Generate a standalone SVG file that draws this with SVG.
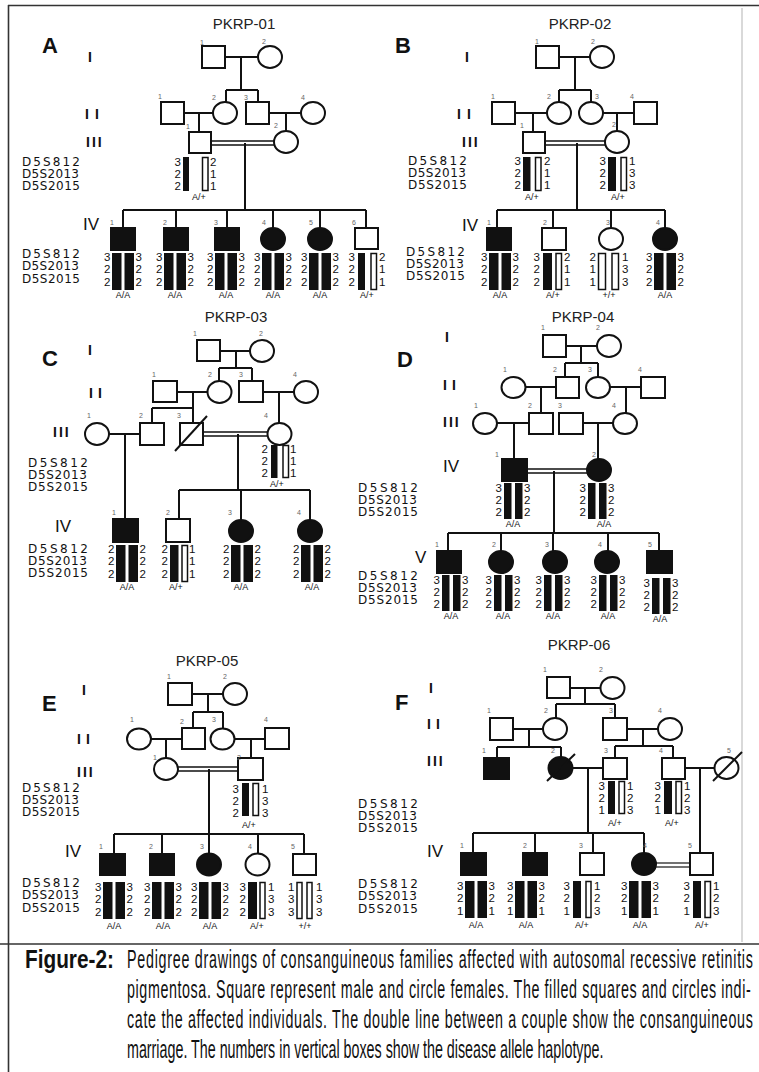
<svg xmlns="http://www.w3.org/2000/svg" xmlns:xlink="http://www.w3.org/1999/xlink" width="759" height="1072" viewBox="0 0 759 1072">
<style>
.ln{stroke:#111;stroke-width:2;fill:none}
.dl{stroke:#111;stroke-width:1.3;fill:none}
.s{fill:#fff;stroke:#111;stroke-width:2}
.f{fill:#111;stroke:#111;stroke-width:2}
.b{fill:#111}
.o{fill:#fff;stroke:#111;stroke-width:1.5}
text{font-family:"Liberation Sans",Arial,sans-serif;fill:#111}
.t{font-size:15px;text-anchor:middle;fill:#222}
.p{font-size:22px;font-weight:bold}
.g{font-size:14px;font-weight:bold}
.gv{font-size:17px}
.i{font-size:7px;fill:#666}
.n{font-size:11.5px}
.ne{font-size:11.5px;text-anchor:end}
.m{font-size:12px;font-family:"DejaVu Sans",sans-serif}
.gt{font-size:9px;text-anchor:middle}
.cap{font-size:26px}
.capb{font-size:26px;font-weight:bold}
</style>
<defs>
<g id="hh"><rect class="b" x="-11" y="0" width="9.5" height="37"/><rect class="b" x="1.5" y="0" width="9.5" height="37"/></g>
<g id="hd"><rect class="b" x="-9" y="0" width="7.5" height="36"/><rect class="b" x="2" y="0" width="7.5" height="36"/></g>
</defs>
<rect width="759" height="1072" fill="#fff"/>
<g id="frame">
<path d="M8 5.5H759" stroke="#333" stroke-width="1.6" fill="none"/>
<path d="M8.5 5V1072" stroke="#333" stroke-width="1.6" fill="none"/>
<path d="M742 8V942" stroke="#ccc" stroke-width="1.5" fill="none"/>
<path d="M0 944H759" stroke="#333" stroke-width="1.6" fill="none"/>
</g>

<!-- ================= PANEL A ================= -->
<g id="panelA-labels">
<text class="t" x="244" y="29">PKRP-01</text>
<text class="p" x="42" y="53">A</text>
<text class="g" x="88" y="62">I</text>
<text class="g" x="85" y="119" letter-spacing="6">II</text>
<text class="g" x="86" y="147" letter-spacing="2">III</text>
<text class="gv" x="83" y="230">IV</text>
<text class="m" x="22" y="166" textLength="58">D5S812</text>
<text class="m" x="22" y="178" textLength="57">D5S2013</text>
<text class="m" x="22" y="190" textLength="58">D5S2015</text>
<text class="m" x="22" y="258" textLength="58">D5S812</text>
<text class="m" x="22" y="270" textLength="57">D5S2013</text>
<text class="m" x="22" y="283" textLength="58">D5S2015</text>
</g>
<g id="panelA-connectors">
<path class="ln" d="M225 57H258M241 57V90M226 90H258M226 90V102M258 90V102M184 113H213M199 113V132M269 113H301M286 113V131M245 143V210M123 210H366M123 210V228M176 210V228M227 210V228M273 210V228M320 210V228M366 210V228"/>
<path class="dl" d="M211 141H274M211 145H274"/>
</g>
<g id="A-I-1"><rect class="s" x="202" y="46" width="23" height="22"/><text class="i" x="200" y="45">1</text></g>
<g id="A-I-2"><ellipse class="s" cx="270" cy="57" rx="12" ry="11"/><text class="i" x="262" y="44">2</text></g>
<g id="A-II-1"><rect class="s" x="161" y="102" width="23" height="22"/><text class="i" x="158" y="99">1</text></g>
<g id="A-II-2"><ellipse class="s" cx="225" cy="113" rx="12" ry="11"/><text class="i" x="212" y="100">2</text></g>
<g id="A-II-3"><rect class="s" x="246" y="102" width="23" height="22"/><text class="i" x="244" y="100">3</text></g>
<g id="A-II-4"><ellipse class="s" cx="313" cy="113" rx="12" ry="11"/><text class="i" x="301" y="100">4</text></g>
<g id="A-III-1"><rect class="s" x="189" y="132" width="22" height="21"/><text class="i" x="186" y="129">1</text>
<rect class="b" x="183" y="157" width="6" height="34"/><rect class="o" x="202.5" y="157.5" width="5.5" height="33"/>
<text class="ne"><tspan x="181" y="166">3</tspan><tspan x="181" y="178">2</tspan><tspan x="181" y="190">2</tspan></text>
<text class="n"><tspan x="210" y="166">2</tspan><tspan x="210" y="178">1</tspan><tspan x="210" y="190">1</tspan></text>
<text class="gt" x="199" y="200">A/+</text></g>
<g id="A-III-2"><ellipse class="s" cx="286" cy="142" rx="12" ry="11"/><text class="i" x="274" y="128">2</text></g>
<g id="A-IV-1"><rect class="f" x="111" y="228" width="24" height="22"/><text class="i" x="110" y="225">1</text>
<use href="#hh" x="123" y="253"/>
<text class="ne"><tspan x="110.5" y="261">3</tspan><tspan x="110.5" y="273">2</tspan><tspan x="110.5" y="286">2</tspan></text>
<text class="n"><tspan x="135.5" y="261">3</tspan><tspan x="135.5" y="273">2</tspan><tspan x="135.5" y="286">2</tspan></text>
<text class="gt" x="123" y="298">A/A</text></g>
<g id="A-IV-2"><rect class="f" x="164" y="228" width="24" height="22"/><text class="i" x="163" y="225">2</text>
<use href="#hh" x="175" y="253"/>
<text class="ne"><tspan x="162.5" y="261">3</tspan><tspan x="162.5" y="273">2</tspan><tspan x="162.5" y="286">2</tspan></text>
<text class="n"><tspan x="187.5" y="261">3</tspan><tspan x="187.5" y="273">2</tspan><tspan x="187.5" y="286">2</tspan></text>
<text class="gt" x="175" y="298">A/A</text></g>
<g id="A-IV-3"><rect class="f" x="215" y="228" width="24" height="22"/><text class="i" x="214" y="225">3</text>
<use href="#hh" x="226" y="253"/>
<text class="ne"><tspan x="213.5" y="261">3</tspan><tspan x="213.5" y="273">2</tspan><tspan x="213.5" y="286">2</tspan></text>
<text class="n"><tspan x="238.5" y="261">3</tspan><tspan x="238.5" y="273">2</tspan><tspan x="238.5" y="286">2</tspan></text>
<text class="gt" x="226" y="298">A/A</text></g>
<g id="A-IV-4"><ellipse class="f" cx="273" cy="239" rx="12" ry="11"/><text class="i" x="262" y="225">4</text>
<use href="#hh" x="273" y="253"/>
<text class="ne"><tspan x="260.5" y="261">3</tspan><tspan x="260.5" y="273">2</tspan><tspan x="260.5" y="286">2</tspan></text>
<text class="n"><tspan x="285.5" y="261">3</tspan><tspan x="285.5" y="273">2</tspan><tspan x="285.5" y="286">2</tspan></text>
<text class="gt" x="273" y="298">A/A</text></g>
<g id="A-IV-5"><ellipse class="f" cx="320" cy="239" rx="12" ry="11"/><text class="i" x="309" y="225">5</text>
<use href="#hh" x="320" y="253"/>
<text class="ne"><tspan x="307.5" y="261">3</tspan><tspan x="307.5" y="273">2</tspan><tspan x="307.5" y="286">2</tspan></text>
<text class="n"><tspan x="332.5" y="261">3</tspan><tspan x="332.5" y="273">2</tspan><tspan x="332.5" y="286">2</tspan></text>
<text class="gt" x="320" y="298">A/A</text></g>
<g id="A-IV-6"><rect class="s" x="355" y="228" width="23" height="21"/><text class="i" x="352" y="225">6</text>
<rect class="b" x="358" y="253" width="7" height="37"/><rect class="o" x="371" y="253.5" width="5.5" height="36"/>
<text class="ne"><tspan x="355" y="261">3</tspan><tspan x="355" y="273">2</tspan><tspan x="355" y="286">2</tspan></text>
<text class="n"><tspan x="379" y="261">2</tspan><tspan x="379" y="273">1</tspan><tspan x="379" y="286">1</tspan></text>
<text class="gt" x="367" y="298">A/+</text></g>

<!-- ================= PANEL B ================= -->
<g id="panelB-labels">
<text class="t" x="580" y="29">PKRP-02</text>
<text class="p" x="395" y="53">B</text>
<text class="g" x="465" y="62">I</text>
<text class="g" x="457" y="119" letter-spacing="6">II</text>
<text class="g" x="462" y="147" letter-spacing="2">III</text>
<text class="gv" x="462" y="231">IV</text>
<text class="m" x="408" y="165" textLength="59">D5S812</text>
<text class="m" x="408" y="177" textLength="58">D5S2013</text>
<text class="m" x="408" y="189" textLength="59">D5S2015</text>
<text class="m" x="406" y="256" textLength="59">D5S812</text>
<text class="m" x="406" y="268" textLength="58">D5S2013</text>
<text class="m" x="406" y="280" textLength="59">D5S2015</text>
</g>
<g id="panelB-connectors">
<path class="ln" d="M559 57H590M575 57V90M559 90H591M559 90V102M591 90V102M515 113H547M533 113V132M603 113H634M617 113V131M577 143V210M497 210H665M497 210V228M553 210V228M611 210V228M665 210V228"/>
<path class="dl" d="M545 141H606M545 145H606"/>
</g>
<g id="B-I-1"><rect class="s" x="536" y="46" width="23" height="22"/><text class="i" x="535" y="44">1</text></g>
<g id="B-I-2"><ellipse class="s" cx="602" cy="57" rx="12" ry="11"/><text class="i" x="591" y="44">2</text></g>
<g id="B-II-1"><rect class="s" x="492" y="102" width="23" height="22"/><text class="i" x="491" y="99">1</text></g>
<g id="B-II-2"><ellipse class="s" cx="559" cy="113" rx="12" ry="11"/><text class="i" x="547" y="99">2</text></g>
<g id="B-II-3"><ellipse class="s" cx="591" cy="113" rx="12" ry="11"/><text class="i" x="595" y="99">3</text></g>
<g id="B-II-4"><rect class="s" x="634" y="102" width="23" height="22"/><text class="i" x="630" y="99">4</text></g>
<g id="B-III-1"><rect class="s" x="523" y="132" width="22" height="21"/><text class="i" x="520" y="128">1</text>
<rect class="b" x="523" y="157" width="7.5" height="34"/><rect class="o" x="535.5" y="157.5" width="5.5" height="33"/>
<text class="ne"><tspan x="521" y="165">3</tspan><tspan x="521" y="177">2</tspan><tspan x="521" y="189">2</tspan></text>
<text class="n"><tspan x="544" y="165">2</tspan><tspan x="544" y="177">1</tspan><tspan x="544" y="189">1</tspan></text>
<text class="gt" x="532" y="200">A/+</text></g>
<g id="B-III-2"><ellipse class="s" cx="617" cy="142" rx="12" ry="11"/><text class="i" x="612" y="127">2</text>
<rect class="b" x="608" y="157" width="8" height="34"/><rect class="o" x="621" y="157.5" width="5.5" height="33"/>
<text class="ne"><tspan x="606" y="165">3</tspan><tspan x="606" y="177">2</tspan><tspan x="606" y="189">2</tspan></text>
<text class="n"><tspan x="629" y="165">1</tspan><tspan x="629" y="177">3</tspan><tspan x="629" y="189">3</tspan></text>
<text class="gt" x="618" y="200">A/+</text></g>
<g id="B-IV-1"><rect class="f" x="487" y="228" width="24" height="22"/><text class="i" x="487" y="225">1</text>
<use href="#hh" x="500" y="253"/>
<text class="ne"><tspan x="487.5" y="261">3</tspan><tspan x="487.5" y="273">2</tspan><tspan x="487.5" y="286">2</tspan></text>
<text class="n"><tspan x="512.5" y="261">3</tspan><tspan x="512.5" y="273">2</tspan><tspan x="512.5" y="286">2</tspan></text>
<text class="gt" x="500" y="298">A/A</text></g>
<g id="B-IV-2"><rect class="s" x="542" y="228" width="24" height="22"/><text class="i" x="543" y="225">2</text>
<rect class="b" x="543" y="253" width="9" height="37"/><rect class="o" x="556" y="253.5" width="5.5" height="36"/>
<text class="ne"><tspan x="540" y="261">3</tspan><tspan x="540" y="273">2</tspan><tspan x="540" y="286">2</tspan></text>
<text class="n"><tspan x="564" y="261">2</tspan><tspan x="564" y="273">1</tspan><tspan x="564" y="286">1</tspan></text>
<text class="gt" x="553" y="298">A/+</text></g>
<g id="B-IV-3"><ellipse class="s" cx="611" cy="239" rx="12" ry="11"/><text class="i" x="606" y="225">3</text>
<rect class="o" x="598.5" y="253.5" width="7" height="36"/><rect class="o" x="612" y="253.5" width="6.5" height="36"/>
<text class="ne"><tspan x="596" y="261">2</tspan><tspan x="596" y="273">1</tspan><tspan x="596" y="286">1</tspan></text>
<text class="n"><tspan x="622" y="261">1</tspan><tspan x="622" y="273">3</tspan><tspan x="622" y="286">3</tspan></text>
<text class="gt" x="609" y="298">+/+</text></g>
<g id="B-IV-4"><ellipse class="f" cx="665" cy="239" rx="12" ry="11"/><text class="i" x="656" y="225">4</text>
<use href="#hh" x="665" y="253"/>
<text class="ne"><tspan x="652.5" y="261">3</tspan><tspan x="652.5" y="273">2</tspan><tspan x="652.5" y="286">2</tspan></text>
<text class="n"><tspan x="677.5" y="261">3</tspan><tspan x="677.5" y="273">2</tspan><tspan x="677.5" y="286">2</tspan></text>
<text class="gt" x="665" y="298">A/A</text></g>

<!-- ================= PANEL C ================= -->
<g id="panelC-labels">
<text class="t" x="236" y="322">PKRP-03</text>
<text class="p" x="42" y="366">C</text>
<text class="g" x="88" y="355">I</text>
<text class="g" x="89" y="398" letter-spacing="5">II</text>
<text class="g" x="53" y="437" letter-spacing="2">III</text>
<text class="gv" x="55" y="532">IV</text>
<text class="m" x="28" y="467" textLength="60">D5S812</text>
<text class="m" x="28" y="479" textLength="59">D5S2013</text>
<text class="m" x="28" y="491" textLength="60">D5S2015</text>
<text class="m" x="28" y="553" textLength="60">D5S812</text>
<text class="m" x="28" y="565" textLength="59">D5S2013</text>
<text class="m" x="28" y="577" textLength="60">D5S2015</text>
</g>
<g id="panelC-connectors">
<path class="ln" d="M220 351H250M236 351V368M219 368H252M219 368V381M252 368V382M177 392H208M193 392V408M152 408H193M152 408V423M193 408V423M263 392H294M279 392V423M108 434H140M125 434V519M238 434V490M179 490H310M179 490V519M241 490V520M310 490V520"/>
<path class="dl" d="M203 432H268M203 436H268"/>
</g>
<g id="C-I-1"><rect class="s" x="197" y="340" width="23" height="21"/><text class="i" x="193" y="336">1</text></g>
<g id="C-I-2"><ellipse class="s" cx="262" cy="351" rx="12" ry="11"/><text class="i" x="259" y="336">2</text></g>
<g id="C-II-1"><rect class="s" x="153" y="381" width="24" height="21"/><text class="i" x="152" y="377">1</text></g>
<g id="C-II-2"><ellipse class="s" cx="219.5" cy="392" rx="12" ry="11"/><text class="i" x="208" y="377">2</text></g>
<g id="C-II-3"><rect class="s" x="239" y="381" width="24" height="21"/><text class="i" x="239" y="377">3</text></g>
<g id="C-II-4"><ellipse class="s" cx="306" cy="392" rx="12" ry="11"/><text class="i" x="293" y="377">4</text></g>
<g id="C-III-1"><ellipse class="s" cx="97" cy="434" rx="12" ry="11"/><text class="i" x="87" y="418">1</text></g>
<g id="C-III-2"><rect class="s" x="140" y="423" width="24" height="22"/><text class="i" x="139" y="418">2</text></g>
<g id="C-III-3"><rect class="s" x="180" y="423" width="23" height="22"/><path class="ln" d="M175 451L207 416"/><text class="i" x="177" y="418">3</text></g>
<g id="C-III-4"><ellipse class="s" cx="279.5" cy="434" rx="12" ry="11"/><text class="i" x="264" y="418">4</text>
<rect class="b" x="271" y="445" width="6.5" height="33"/><rect class="o" x="283" y="445.5" width="5.5" height="32"/>
<text class="ne"><tspan x="268" y="453">2</tspan><tspan x="268" y="465">2</tspan><tspan x="268" y="477">2</tspan></text>
<text class="n"><tspan x="290" y="453">1</tspan><tspan x="290" y="465">1</tspan><tspan x="290" y="477">1</tspan></text>
<text class="gt" x="277" y="487">A/+</text></g>
<g id="C-IV-1"><rect class="f" x="113" y="519" width="25" height="23"/><text class="i" x="112" y="515">1</text>
<use href="#hh" x="127" y="545"/>
<text class="ne"><tspan x="114.5" y="553">2</tspan><tspan x="114.5" y="565">2</tspan><tspan x="114.5" y="578">2</tspan></text>
<text class="n"><tspan x="139.5" y="553">2</tspan><tspan x="139.5" y="565">2</tspan><tspan x="139.5" y="578">2</tspan></text>
<text class="gt" x="127" y="590">A/A</text></g>
<g id="C-IV-2"><rect class="s" x="166" y="519" width="24" height="23"/><text class="i" x="166" y="515">2</text>
<rect class="b" x="170" y="545" width="8.5" height="37"/><rect class="o" x="182" y="545.5" width="5.5" height="36"/>
<text class="ne"><tspan x="168" y="553">2</tspan><tspan x="168" y="565">2</tspan><tspan x="168" y="578">2</tspan></text>
<text class="n"><tspan x="189" y="553">1</tspan><tspan x="189" y="565">1</tspan><tspan x="189" y="578">1</tspan></text>
<text class="gt" x="176" y="590">A/+</text></g>
<g id="C-IV-3"><ellipse class="f" cx="241" cy="531" rx="12" ry="11"/><text class="i" x="228" y="515">3</text>
<use href="#hh" x="242" y="545"/>
<text class="ne"><tspan x="229.5" y="553">2</tspan><tspan x="229.5" y="565">2</tspan><tspan x="229.5" y="578">2</tspan></text>
<text class="n"><tspan x="254.5" y="553">2</tspan><tspan x="254.5" y="565">2</tspan><tspan x="254.5" y="578">2</tspan></text>
<text class="gt" x="241" y="590">A/A</text></g>
<g id="C-IV-4"><ellipse class="f" cx="310" cy="531" rx="12" ry="11"/><text class="i" x="297" y="515">4</text>
<use href="#hh" x="312" y="545"/>
<text class="ne"><tspan x="299.5" y="553">2</tspan><tspan x="299.5" y="565">2</tspan><tspan x="299.5" y="578">2</tspan></text>
<text class="n"><tspan x="324.5" y="553">2</tspan><tspan x="324.5" y="565">2</tspan><tspan x="324.5" y="578">2</tspan></text>
<text class="gt" x="312" y="590">A/A</text></g>

<!-- ================= PANEL D ================= -->
<g id="panelD-labels">
<text class="t" x="583" y="322">PKRP-04</text>
<text class="p" x="397" y="367">D</text>
<text class="g" x="445" y="342">I</text>
<text class="g" x="443" y="390" letter-spacing="5">II</text>
<text class="g" x="443" y="427" letter-spacing="2">III</text>
<text class="gv" x="443" y="472">IV</text>
<text class="gv" x="415" y="563">V</text>
<text class="m" x="358" y="492" textLength="60">D5S812</text>
<text class="m" x="358" y="504" textLength="59">D5S2013</text>
<text class="m" x="358" y="516" textLength="60">D5S2015</text>
<text class="m" x="358" y="580" textLength="60">D5S812</text>
<text class="m" x="358" y="592" textLength="59">D5S2013</text>
<text class="m" x="358" y="604" textLength="60">D5S2015</text>
</g>
<g id="panelD-connectors">
<path class="ln" d="M566 346H597M581 346V363M565 363H598M565 363V377M598 363V377M525 387H556M541 387V413M610 387H641M626 387V413M497 423H529M514 423V459M583 423H613M598 423V459M554 471V533M448 533H659M448 533V551M501 533V551M553 533V551M608 533V551M659 533V551"/>
<path class="dl" d="M527 469H587M527 473H587"/>
</g>
<g id="D-I-1"><rect class="s" x="543" y="335" width="23" height="22"/><text class="i" x="541" y="330">1</text></g>
<g id="D-I-2"><ellipse class="s" cx="609" cy="346" rx="12" ry="11"/><text class="i" x="596" y="330">2</text></g>
<g id="D-II-1"><ellipse class="s" cx="513.5" cy="387.5" rx="12" ry="10.5"/><text class="i" x="503" y="372">1</text></g>
<g id="D-II-2"><rect class="s" x="556" y="377" width="23" height="21"/><text class="i" x="553" y="372">2</text></g>
<g id="D-II-3"><ellipse class="s" cx="598" cy="387.5" rx="12" ry="10.5"/><text class="i" x="588" y="372">3</text></g>
<g id="D-II-4"><rect class="s" x="641" y="377" width="24" height="21"/><text class="i" x="638" y="372">4</text></g>
<g id="D-III-1"><ellipse class="s" cx="485" cy="423.5" rx="12" ry="10.5"/><text class="i" x="474" y="408">1</text></g>
<g id="D-III-2"><rect class="s" x="529" y="413" width="24" height="21"/><text class="i" x="528" y="408">2</text></g>
<g id="D-III-3"><rect class="s" x="559" y="413" width="24" height="21"/><text class="i" x="558" y="408">3</text></g>
<g id="D-III-4"><ellipse class="s" cx="625" cy="423.5" rx="12" ry="10.5"/><text class="i" x="612" y="408">4</text></g>
<g id="D-IV-1"><rect class="f" x="502" y="459" width="25" height="22"/><text class="i" x="495" y="457">1</text>
<use href="#hd" x="513" y="483"/>
<text class="ne"><tspan x="502" y="492">3</tspan><tspan x="502" y="504">2</tspan><tspan x="502" y="516">2</tspan></text>
<text class="n"><tspan x="524" y="492">3</tspan><tspan x="524" y="504">2</tspan><tspan x="524" y="516">2</tspan></text>
<text class="gt" x="513" y="527">A/A</text></g>
<g id="D-IV-2"><ellipse class="f" cx="599" cy="470" rx="12" ry="11"/><text class="i" x="592" y="457">2</text>
<use href="#hd" x="597" y="483"/>
<text class="ne"><tspan x="586" y="492">3</tspan><tspan x="586" y="504">2</tspan><tspan x="586" y="516">2</tspan></text>
<text class="n"><tspan x="608" y="492">3</tspan><tspan x="608" y="504">2</tspan><tspan x="608" y="516">2</tspan></text>
<text class="gt" x="604" y="527">A/A</text></g>
<g id="D-V-1"><rect class="f" x="437" y="551" width="24" height="22"/><text class="i" x="435" y="547">1</text>
<use href="#hd" x="451" y="575"/>
<text class="ne"><tspan x="440" y="584">3</tspan><tspan x="440" y="596">2</tspan><tspan x="440" y="608">2</tspan></text>
<text class="n"><tspan x="462" y="584">3</tspan><tspan x="462" y="596">2</tspan><tspan x="462" y="608">2</tspan></text>
<text class="gt" x="451" y="619">A/A</text></g>
<g id="D-V-2"><ellipse class="f" cx="501" cy="562" rx="12" ry="11"/><text class="i" x="492" y="547">2</text>
<use href="#hd" x="503" y="575"/>
<text class="ne"><tspan x="492" y="584">3</tspan><tspan x="492" y="596">2</tspan><tspan x="492" y="608">2</tspan></text>
<text class="n"><tspan x="514" y="584">3</tspan><tspan x="514" y="596">2</tspan><tspan x="514" y="608">2</tspan></text>
<text class="gt" x="503" y="619">A/A</text></g>
<g id="D-V-3"><ellipse class="f" cx="555" cy="562" rx="12" ry="11"/><text class="i" x="545" y="547">3</text>
<use href="#hd" x="553" y="575"/>
<text class="ne"><tspan x="542" y="584">3</tspan><tspan x="542" y="596">2</tspan><tspan x="542" y="608">2</tspan></text>
<text class="n"><tspan x="564" y="584">3</tspan><tspan x="564" y="596">2</tspan><tspan x="564" y="608">2</tspan></text>
<text class="gt" x="553" y="619">A/A</text></g>
<g id="D-V-4"><ellipse class="f" cx="607" cy="562" rx="12" ry="11"/><text class="i" x="598" y="547">4</text>
<use href="#hd" x="608" y="575"/>
<text class="ne"><tspan x="597" y="584">3</tspan><tspan x="597" y="596">2</tspan><tspan x="597" y="608">2</tspan></text>
<text class="n"><tspan x="619" y="584">3</tspan><tspan x="619" y="596">2</tspan><tspan x="619" y="608">2</tspan></text>
<text class="gt" x="608" y="619">A/A</text></g>
<g id="D-V-5"><rect class="f" x="647" y="551" width="25" height="22"/><text class="i" x="648" y="547">5</text>
<use href="#hd" x="661" y="578"/>
<text class="ne"><tspan x="650" y="587">3</tspan><tspan x="650" y="599">2</tspan><tspan x="650" y="611">2</tspan></text>
<text class="n"><tspan x="672" y="587">3</tspan><tspan x="672" y="599">2</tspan><tspan x="672" y="611">2</tspan></text>
<text class="gt" x="660" y="622">A/A</text></g>

<!-- ================= PANEL E ================= -->
<g id="panelE-labels">
<text class="t" x="207" y="666">PKRP-05</text>
<text class="p" x="42" y="711">E</text>
<text class="g" x="82" y="695">I</text>
<text class="g" x="77" y="744" letter-spacing="5">II</text>
<text class="g" x="77" y="777" letter-spacing="2">III</text>
<text class="gv" x="65" y="857">IV</text>
<text class="m" x="22" y="792" textLength="58">D5S812</text>
<text class="m" x="22" y="804" textLength="57">D5S2013</text>
<text class="m" x="22" y="816" textLength="58">D5S2015</text>
<text class="m" x="22" y="887" textLength="58">D5S812</text>
<text class="m" x="22" y="899" textLength="57">D5S2013</text>
<text class="m" x="22" y="912" textLength="58">D5S2015</text>
</g>
<g id="panelE-connectors">
<path class="ln" d="M192 694H223M208 694V712M193 712H223M193 712V728M223 712V728M151 739H182M166 739V758M234 739H265M251 739V758M209 769V834M114 834H304M114 834V854M162 834V854M209 834V854M258 834V854M304 834V854"/>
<path class="dl" d="M178 767H238M178 771H238"/>
</g>
<g id="E-I-1"><rect class="s" x="168" y="683" width="24" height="22"/><text class="i" x="167" y="679">1</text></g>
<g id="E-I-2"><ellipse class="s" cx="235" cy="694" rx="12" ry="11"/><text class="i" x="223" y="679">2</text></g>
<g id="E-II-1"><ellipse class="s" cx="139" cy="739" rx="12" ry="10.5"/><text class="i" x="130" y="722">1</text></g>
<g id="E-II-2"><rect class="s" x="182" y="728" width="23" height="21"/><text class="i" x="180" y="724">2</text></g>
<g id="E-II-3"><ellipse class="s" cx="222.5" cy="739" rx="12" ry="10.5"/><text class="i" x="212" y="722">3</text></g>
<g id="E-II-4"><rect class="s" x="265" y="728" width="24" height="21"/><text class="i" x="264" y="722">4</text></g>
<g id="E-III-1"><ellipse class="s" cx="166" cy="769" rx="12" ry="11"/><text class="i" x="153" y="760">1</text></g>
<g id="E-III-2"><rect class="s" x="238" y="758" width="25" height="22"/><text class="i" x="237" y="760">2</text>
<rect class="b" x="242" y="783" width="7" height="33"/><rect class="o" x="253" y="783.5" width="5.5" height="32"/>
<text class="ne"><tspan x="239" y="793">3</tspan><tspan x="239" y="805">2</tspan><tspan x="239" y="817">2</tspan></text>
<text class="n"><tspan x="262" y="793">1</tspan><tspan x="262" y="805">3</tspan><tspan x="262" y="817">3</tspan></text>
<text class="gt" x="249" y="828">A/+</text></g>
<g id="E-IV-1"><rect class="f" x="100" y="854" width="25" height="21"/><text class="i" x="99" y="849">1</text>
<use href="#hh" x="114" y="882"/>
<text class="ne"><tspan x="101.5" y="891">3</tspan><tspan x="101.5" y="903">2</tspan><tspan x="101.5" y="916">2</tspan></text>
<text class="n"><tspan x="126.5" y="891">3</tspan><tspan x="126.5" y="903">2</tspan><tspan x="126.5" y="916">2</tspan></text>
<text class="gt" x="114" y="929">A/A</text></g>
<g id="E-IV-2"><rect class="f" x="150" y="854" width="24" height="21"/><text class="i" x="149" y="849">2</text>
<use href="#hh" x="163" y="882"/>
<text class="ne"><tspan x="150.5" y="891">3</tspan><tspan x="150.5" y="903">2</tspan><tspan x="150.5" y="916">2</tspan></text>
<text class="n"><tspan x="175.5" y="891">3</tspan><tspan x="175.5" y="903">2</tspan><tspan x="175.5" y="916">2</tspan></text>
<text class="gt" x="163" y="929">A/A</text></g>
<g id="E-IV-3"><ellipse class="f" cx="209" cy="864.5" rx="12" ry="11"/><text class="i" x="200" y="849">3</text>
<use href="#hh" x="210" y="882"/>
<text class="ne"><tspan x="197.5" y="891">3</tspan><tspan x="197.5" y="903">2</tspan><tspan x="197.5" y="916">2</tspan></text>
<text class="n"><tspan x="222.5" y="891">3</tspan><tspan x="222.5" y="903">2</tspan><tspan x="222.5" y="916">2</tspan></text>
<text class="gt" x="210" y="929">A/A</text></g>
<g id="E-IV-4"><ellipse class="s" cx="257.5" cy="864.5" rx="12" ry="11"/><text class="i" x="248" y="849">4</text>
<rect class="b" x="248" y="882" width="9" height="37"/><rect class="o" x="260" y="882.5" width="5" height="36"/>
<text class="ne"><tspan x="246" y="891">3</tspan><tspan x="246" y="903">2</tspan><tspan x="246" y="916">2</tspan></text>
<text class="n"><tspan x="268" y="891">1</tspan><tspan x="268" y="903">3</tspan><tspan x="268" y="916">3</tspan></text>
<text class="gt" x="257" y="929">A/+</text></g>
<g id="E-IV-5"><rect class="s" x="293" y="854" width="23" height="21"/><text class="i" x="291" y="849">5</text>
<rect class="o" x="297" y="882.5" width="5" height="36"/><rect class="o" x="307" y="882.5" width="5" height="36"/>
<text class="ne"><tspan x="294.5" y="891">1</tspan><tspan x="294.5" y="903">3</tspan><tspan x="294.5" y="916">3</tspan></text>
<text class="n"><tspan x="316" y="891">1</tspan><tspan x="316" y="903">3</tspan><tspan x="316" y="916">3</tspan></text>
<text class="gt" x="305" y="929">+/+</text></g>

<!-- ================= PANEL F ================= -->
<g id="panelF-labels">
<text class="t" x="579" y="650">PKRP-06</text>
<text class="p" x="395" y="710">F</text>
<text class="g" x="429" y="693">I</text>
<text class="g" x="427" y="729" letter-spacing="5">II</text>
<text class="g" x="427" y="766" letter-spacing="2">III</text>
<text class="gv" x="427" y="857">IV</text>
<text class="m" x="358" y="808" textLength="60">D5S812</text>
<text class="m" x="358" y="820" textLength="59">D5S2013</text>
<text class="m" x="358" y="832" textLength="60">D5S2015</text>
<text class="m" x="358" y="888" textLength="60">D5S812</text>
<text class="m" x="358" y="900" textLength="59">D5S2013</text>
<text class="m" x="358" y="913" textLength="60">D5S2015</text>
</g>
<g id="panelF-connectors">
<path class="ln" d="M570 688H601M585 688V704M556 704H615M556 704V718M615 704V718M513 729H543M529 729V747M497 747H561M497 747V758M561 747V757M627 729H658M643 729V746M615 746H673M615 746V758M673 746V758M573 768H603M588 768V833M685 768H715M700 768V853M473 833H644M473 833V853M535 833V853M593 833V853M644 833V853"/>
<path d="M656 863H690M656 867H690" stroke="#444" stroke-width="1.5" fill="none"/>
</g>
<g id="F-I-1"><rect class="s" x="547" y="677" width="23" height="21"/><text class="i" x="543" y="672">1</text></g>
<g id="F-I-2"><ellipse class="s" cx="612.5" cy="688" rx="12" ry="11"/><text class="i" x="599" y="672">2</text></g>
<g id="F-II-1"><rect class="s" x="490" y="718" width="23" height="22"/><text class="i" x="487" y="713">1</text></g>
<g id="F-II-2"><ellipse class="s" cx="555" cy="729" rx="12" ry="11"/><text class="i" x="544" y="713">2</text></g>
<g id="F-II-3"><rect class="s" x="603" y="718" width="24" height="22"/><text class="i" x="609" y="713">3</text></g>
<g id="F-II-4"><ellipse class="s" cx="670" cy="729" rx="12" ry="11"/><text class="i" x="658" y="713">4</text></g>
<g id="F-III-1"><rect class="f" x="484" y="758" width="25" height="21"/><text class="i" x="482" y="753">1</text></g>
<g id="F-III-2"><ellipse class="f" cx="560.5" cy="768" rx="12" ry="11"/><path class="ln" d="M547 781L575 754"/><text class="i" x="551" y="753">2</text></g>
<g id="F-III-3"><rect class="s" x="603" y="758" width="24" height="21"/><text class="i" x="604" y="753">3</text>
<rect class="b" x="608" y="781" width="7" height="33"/><rect class="o" x="619" y="781.5" width="5.5" height="32"/>
<text class="ne"><tspan x="605" y="790">3</tspan><tspan x="605" y="802">2</tspan><tspan x="605" y="814">1</tspan></text>
<text class="n"><tspan x="627" y="790">1</tspan><tspan x="627" y="802">2</tspan><tspan x="627" y="814">3</tspan></text>
<text class="gt" x="615" y="826">A/+</text></g>
<g id="F-III-4"><rect class="s" x="662" y="758" width="23" height="21"/><text class="i" x="659" y="753">4</text>
<rect class="b" x="664" y="781" width="8" height="33"/><rect class="o" x="676" y="781.5" width="5.5" height="32"/>
<text class="ne"><tspan x="661" y="790">3</tspan><tspan x="661" y="802">2</tspan><tspan x="661" y="814">1</tspan></text>
<text class="n"><tspan x="684" y="790">1</tspan><tspan x="684" y="802">2</tspan><tspan x="684" y="814">3</tspan></text>
<text class="gt" x="672" y="826">A/+</text></g>
<g id="F-III-5"><ellipse class="s" cx="726.5" cy="768" rx="12" ry="11"/><path class="ln" d="M713 781L742 752"/><text class="i" x="727" y="753">5</text></g>
<g id="F-IV-1"><rect class="f" x="461" y="853" width="25" height="22"/><text class="i" x="460" y="848">1</text>
<use href="#hh" x="476" y="881"/>
<text class="ne"><tspan x="463.5" y="890">3</tspan><tspan x="463.5" y="902">2</tspan><tspan x="463.5" y="915">1</tspan></text>
<text class="n"><tspan x="488.5" y="890">3</tspan><tspan x="488.5" y="902">2</tspan><tspan x="488.5" y="915">1</tspan></text>
<text class="gt" x="476" y="928">A/A</text></g>
<g id="F-IV-2"><rect class="f" x="523" y="853" width="24" height="22"/><text class="i" x="523" y="848">2</text>
<use href="#hh" x="526" y="881"/>
<text class="ne"><tspan x="513.5" y="890">3</tspan><tspan x="513.5" y="902">2</tspan><tspan x="513.5" y="915">1</tspan></text>
<text class="n"><tspan x="538.5" y="890">3</tspan><tspan x="538.5" y="902">2</tspan><tspan x="538.5" y="915">1</tspan></text>
<text class="gt" x="526" y="928">A/A</text></g>
<g id="F-IV-3"><rect class="s" x="580" y="853" width="24" height="22"/><text class="i" x="579" y="848">3</text>
<rect class="b" x="573" y="881" width="8" height="37"/><rect class="o" x="586" y="881.5" width="5" height="36"/>
<text class="ne"><tspan x="570" y="890">3</tspan><tspan x="570" y="902">2</tspan><tspan x="570" y="915">1</tspan></text>
<text class="n"><tspan x="594" y="890">1</tspan><tspan x="594" y="902">2</tspan><tspan x="594" y="915">3</tspan></text>
<text class="gt" x="582" y="928">A/+</text></g>
<g id="F-IV-4"><ellipse class="f" cx="644" cy="864" rx="12" ry="11"/><text class="i" x="643" y="848">4</text>
<use href="#hh" x="640" y="881"/>
<text class="ne"><tspan x="627.5" y="890">3</tspan><tspan x="627.5" y="902">2</tspan><tspan x="627.5" y="915">1</tspan></text>
<text class="n"><tspan x="652.5" y="890">3</tspan><tspan x="652.5" y="902">2</tspan><tspan x="652.5" y="915">1</tspan></text>
<text class="gt" x="640" y="928">A/A</text></g>
<g id="F-IV-5"><rect class="s" x="690" y="853" width="23" height="22"/><text class="i" x="688" y="848">5</text>
<rect class="b" x="693" y="881" width="8" height="37"/><rect class="o" x="705" y="881.5" width="5.5" height="36"/>
<text class="ne"><tspan x="690" y="890">3</tspan><tspan x="690" y="902">2</tspan><tspan x="690" y="915">1</tspan></text>
<text class="n"><tspan x="713" y="890">1</tspan><tspan x="713" y="902">2</tspan><tspan x="713" y="915">3</tspan></text>
<text class="gt" x="702" y="928">A/+</text></g>

<!-- ================= CAPTION ================= -->
<g id="caption">
<g transform="translate(25,0) scale(0.8,1)"><text class="capb" x="0" y="968">Figure-2:</text></g>
<g transform="translate(127,0) scale(0.55,1)">
<text class="cap" x="0" y="968" textLength="1138" lengthAdjust="spacing">Pedigree drawings of consanguineous families affected with autosomal recessive retinitis</text>
<text class="cap" x="0" y="998" textLength="1134" lengthAdjust="spacing">pigmentosa. Square represent male and circle females. The filled squares and circles indi-</text>
<text class="cap" x="0" y="1028" textLength="1138" lengthAdjust="spacing">cate the affected individuals. The double line between a couple show the consanguineous</text>
<text class="cap" x="0" y="1058">marriage. The numbers in vertical boxes show the disease allele haplotype.</text>
</g>
</g>
</svg>
